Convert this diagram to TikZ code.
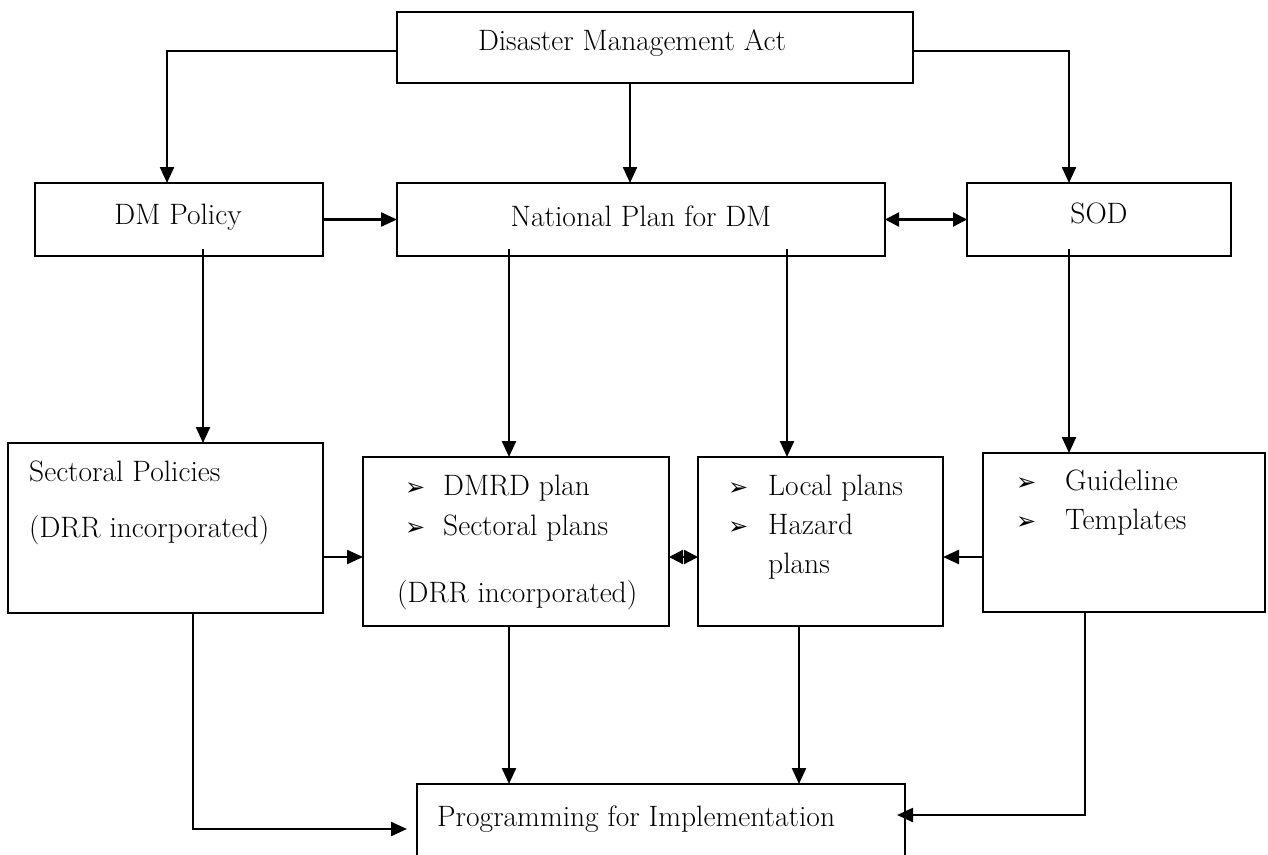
\documentclass[tikz,border=0pt]{standalone}
\usepackage{fontspec}
\newfontfamily\symfont{DejaVu Sans}
\usetikzlibrary{arrows.meta}
\tikzset{
  box/.style={draw, line width=2pt, inner sep=0pt, outer sep=0pt},
  tip/.style={Triangle[length=16pt,width=14pt]},
  arr/.style={line width=2.3pt, -{Triangle[length=16pt,width=14pt]}},
  darr/.style={line width=2.3pt, {Triangle[length=14pt,width=14pt]}-{Triangle[length=14pt,width=14pt]}},
  lbl/.style={inner sep=0pt, font=\fontsize{29.5}{35}\selectfont},
  bul/.style={inner sep=0pt, anchor=base west, font=\symfont\fontsize{24}{28}\selectfont},
}
\begin{document}
\begin{tikzpicture}[x=1pt,y=-1pt]
\useasboundingbox (0,0) rectangle (1268,854);
\fill[white] (0,0) rectangle (1268,854);

% boxes
\node[box, minimum width=516pt, minimum height=71pt] (act)  at (655,47.5) {};
\node[box, minimum width=288pt, minimum height=73pt] (pol)  at (179,219.5) {};
\node[box, minimum width=488pt, minimum height=73pt] (nat)  at (641,219.5) {};
\node[box, minimum width=264pt, minimum height=73pt] (sod)  at (1099,219.5) {};
\node[box, minimum width=315pt, minimum height=170pt] (secp) at (165.5,528) {};
\node[box, minimum width=306pt, minimum height=169pt] (dmrd) at (516,541.5) {};
\node[box, minimum width=245pt, minimum height=169pt] (loc)  at (820.5,541.5) {};
\node[box, minimum width=282pt, minimum height=159pt] (gui)  at (1124,532.5) {};
\node[box, minimum width=488pt, minimum height=74pt] (prog) at (661,821) {};

% texts
\node[lbl, anchor=base] (tact) at (632,50) {Disaster Management Act};
\node[lbl, anchor=base] (tpol) at (178,224) {DM Policy};
\node[lbl, anchor=base] (tnat) at (641,226) {National Plan for DM};
\node[lbl, anchor=base] (tsod) at (1099,223) {SOD};

\node[lbl, anchor=base west] (tsec1) at (29,481) {Sectoral Policies};
\node[lbl, anchor=base west] (tsec2) at (29,537) {(DRR incorporated)};

\node[bul] (b1) at (405,495) {➢};
\node[lbl, anchor=base west] (td1) at (443,495) {DMRD plan};
\node[bul] (b2) at (405,535) {➢};
\node[lbl, anchor=base west] (td2) at (443,535) {Sectoral plans};
\node[lbl, anchor=base west] (td3) at (397,602) {(DRR incorporated)};

\node[bul] (b3) at (728,495) {➢};
\node[lbl, anchor=base west] (tl1) at (768,495) {Local plans};
\node[bul] (b4) at (728,534) {➢};
\node[lbl, anchor=base west] (tl2) at (768,534) {Hazard};
\node[lbl, anchor=base west] (tl3) at (768,573) {plans};

\node[bul] (b5) at (1016,490) {➢};
\node[lbl, anchor=base west] (tg1) at (1065,490) {Guideline};
\node[bul] (b6) at (1016,529) {➢};
\node[lbl, anchor=base west] (tg2) at (1065,529) {Templates};

\node[lbl, anchor=base west] (tprog) at (437,826) {Programming for Implementation};

% connectors from the Act
\draw[arr] ([yshift=-3.5pt]act.west) -| (pol.north -| 167,0);
\draw[arr] (act.south -| 630,0) -- (nat.north -| 630,0);
\draw[arr] ([yshift=-3.5pt]act.east) -| (sod.north -| 1069,0);

% second row links
\draw[arr] (pol.east) -- (nat.west);
\draw[darr] (nat.east) -- (sod.west);

% second row to third row
\draw[arr] ([yshift=7pt]pol.south -| 203,0) -- (secp.north -| 203,0);
\draw[arr] ([yshift=7pt]nat.south -| 509,0) -- (dmrd.north -| 509,0);
\draw[arr] ([yshift=7pt]nat.south -| 787,0) -- (loc.north -| 787,0);
\draw[arr] ([yshift=7pt]sod.south -| 1069,0) -- (gui.north -| 1069,0);

% third row links
\draw[arr] (secp.east |- 0,557) -- (dmrd.west |- 0,557);
\draw[darr] (dmrd.east |- 0,557) -- (loc.west |- 0,557);
\draw[arr] (gui.west |- 0,557) -- (loc.east |- 0,557);

% into programming
\coordinate (pin) at (407,829);
\coordinate (pout) at (897,815);
\draw[arr] (secp.south -| 193,0) |- (pin);
\draw[arr] (dmrd.south -| 509,0) -- (prog.north -| 509,0);
\draw[arr] (loc.south -| 799,0) -- (prog.north -| 799,0);
\draw[arr] (gui.south -| 1085,0) |- (pout);
\end{tikzpicture}
\end{document}
